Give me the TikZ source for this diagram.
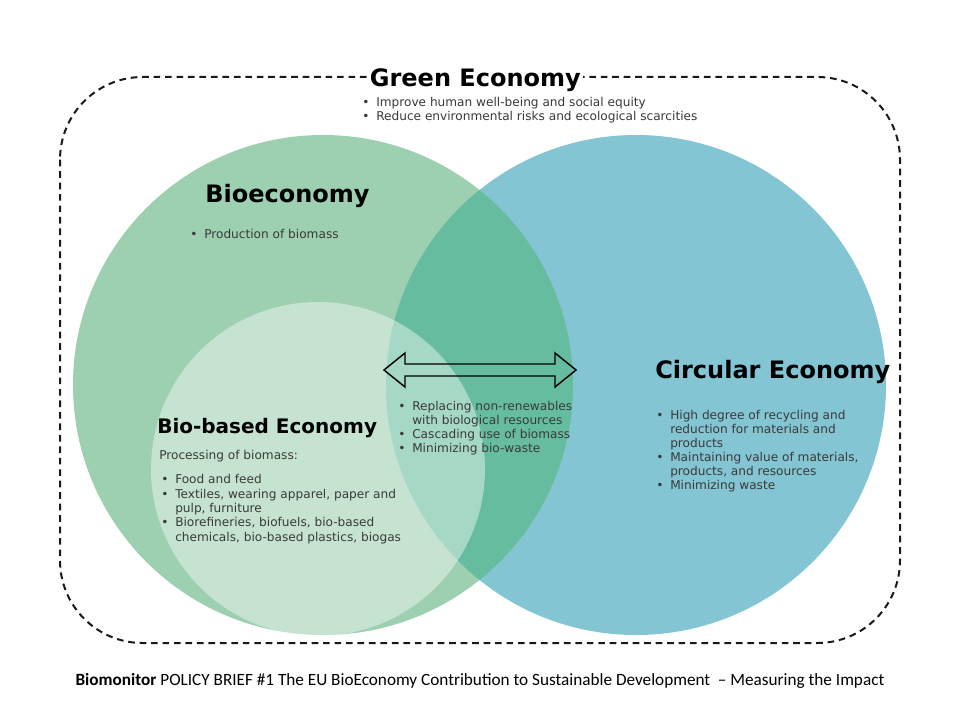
\documentclass[tikz,border=0pt]{standalone}
\usepackage{fontspec}
\setmainfont{DejaVu Sans}
\newfontfamily\footfont{Carlito}
\definecolor{bioG}{HTML}{9DCFB1}
\definecolor{circB}{HTML}{83C5D3}
\definecolor{overG}{HTML}{66BC9E}
\definecolor{txtG}{HTML}{3A3A3A}
\newcommand{\itm}[1]{\makebox[10.5pt][l]{\textbullet}#1}
\newcommand{\cnt}[1]{\hspace*{10.5pt}#1}
\tikzset{
  dashbox/.style={draw=black!90, line width=1.5pt, dash pattern=on 5pt off 3.6pt, rounded corners=62pt},
  heading/.style={inner sep=0pt, anchor=base west, text=black, font=\bfseries\fontsize{18}{21}\selectfont},
  blist/.style={inner sep=0pt, anchor=base west, align=left, text=txtG, font=\fontsize{9.1}{10.5}\selectfont},
  dblarrow/.style={draw=black, line width=1.1pt, line join=miter}
}
\begin{document}
\begin{tikzpicture}[x=0.75pt, y=-0.75pt]
\useasboundingbox (0,0) rectangle (960,720);
\fill[white] (0,0) rectangle (960,720);
% circles
\fill[bioG] (323,385) circle[radius=250];
\fill[circB] (636,385) circle[radius=250];
\begin{scope}
  \clip (323,385) circle[radius=250];
  \fill[overG] (636,385) circle[radius=250];
\end{scope}
\fill[white, fill opacity=0.42] (318,469) circle[radius=167];
% dashed frame
\draw[dashbox] (60,77) rectangle (900,643);
% green economy (multi-line nodes: base = last line)
\node[heading, fill=white, inner xsep=2pt, inner ysep=3pt, anchor=base west] (ge) at (367,87) {Green Economy};
\node[blist] (gel) at (362,121) {\itm{Improve human well-being and social equity}\\\itm{Reduce environmental risks and ecological scarcities}};
% bioeconomy
\node[heading] (be) at (205,203) {Bioeconomy};
\node[blist] (bel) at (190,239) {\itm{Production of biomass}};
% bio-based
\node[heading, font=\bfseries\fontsize{15}{18}\selectfont] (bb) at (157,433) {Bio-based Economy};
\node[blist] (bbp) at (159,459) {Processing of biomass:};
\node[blist, font=\fontsize{9.1}{10.75}\selectfont] (bbl) at (161,541) {\itm{Food and feed}\\\itm{Textiles, wearing apparel, paper and}\\\cnt{pulp, furniture}\\\itm{Biorefineries, biofuels, bio-based}\\\cnt{chemicals, bio-based plastics, biogas}};
% middle
\node[blist] (mid) at (398,452) {\itm{Replacing non-renewables}\\\cnt{with biological resources}\\\itm{Cascading use of biomass}\\\itm{Minimizing bio-waste}};
% circular
\node[heading] (ce) at (655,378) {Circular Economy};
\node[blist] (cel) at (656,489) {\itm{High degree of recycling and}\\\cnt{reduction for materials and}\\\cnt{products}\\\itm{Maintaining value of materials,}\\\cnt{products, and resources}\\\itm{Minimizing waste}};
% double arrow
\draw[dblarrow] (384,370) -- (405,353) -- (405,364) -- (555,364) -- (555,353) -- (576,370) -- (555,387) -- (555,376) -- (405,376) -- (405,387) -- cycle;
% footer
\node[inner sep=0pt, anchor=base, font=\footfont\fontsize{12.9}{15}\selectfont] (foot) at (480,685) {\textbf{Biomonitor} POLICY BRIEF \#1 The EU BioEconomy Contribution to Sustainable Development\ \ – Measuring the Impact};
\end{tikzpicture}
\end{document}
